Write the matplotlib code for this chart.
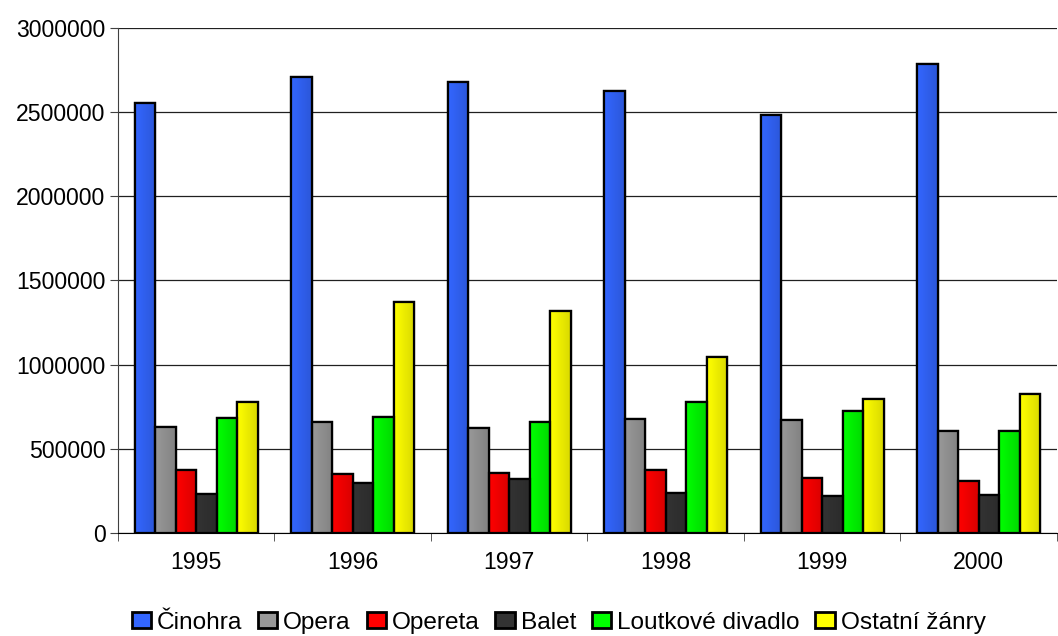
import matplotlib
matplotlib.use("Agg")
import matplotlib.pyplot as plt
import numpy as np
from matplotlib.colors import to_rgb, LinearSegmentedColormap

years = ["1995", "1996", "1997", "1998", "1999", "2000"]
series_names = ["Činohra", "Opera", "Opereta", "Balet", "Loutkové divadlo", "Ostatní žánry"]
cinohra = [2552000, 2711000, 2679000, 2627000, 2482000, 2789000]
opera = [632000, 657000, 624000, 675000, 669000, 608000]
opereta = [377000, 353000, 359000, 377000, 325000, 311000]
balet = [229000, 295000, 323000, 237000, 217000, 225000]
loutkove = [683000, 687000, 659000, 781000, 723000, 608000]
ostatni = [781000, 1373000, 1321000, 1048000, 797000, 823000]
colors = ["#3366FF", "#999999", "#FF0000", "#333333", "#00FF00", "#FFFF00"]

all_series = [cinohra, opera, opereta, balet, loutkove, ostatni]

plt.rcParams['font.family'] = ['Liberation Sans', 'DejaVu Sans']
fig = plt.figure(figsize=(10.58, 6.36), dpi=100)
ax = fig.add_axes([0.1115, 0.162, 0.8875, 0.794])

x = np.arange(len(years))
n = len(all_series)
bw = 0.131
grad = np.linspace(0, 1, 64).reshape(1, -1)
for i, (vals, name, col) in enumerate(zip(all_series, series_names, colors)):
    offs = (i - (n - 1) / 2) * bw
    bars = ax.bar(x + offs, vals, width=bw, color=col, edgecolor="black",
                  linewidth=1.6, label=name, zorder=3)
    c = np.array(to_rgb(col))
    cmap = LinearSegmentedColormap.from_list("g", [c, c * 0.85])
    for b in bars:
        im = ax.imshow(grad, cmap=cmap, aspect="auto", zorder=3.5,
                       extent=[b.get_x(), b.get_x() + b.get_width(), 0, b.get_height()])
        im.set_clip_path(b)
    ax.bar(x + offs, vals, width=bw, fill=False, edgecolor="black", linewidth=1.6, zorder=4)

ax.set_xlim(-0.5, len(years) - 0.5)
ax.set_ylim(0, 3000000)
ax.set_yticks(np.arange(0, 3000001, 500000))
ax.set_yticklabels([str(v) for v in range(0, 3000001, 500000)])
ax.set_xticks(x)
ax.set_xticklabels(years)
ax.set_xticks(np.arange(-0.5, len(years), 1.0), minor=True)
ax.tick_params(axis="x", which="major", length=0, labelsize=16.6, pad=13)
ax.tick_params(axis="x", which="minor", length=6, color="#404040")
ax.tick_params(axis="y", length=6, labelsize=16.6, color="#404040", pad=3)
ax.grid(axis="y", color="#202020", linewidth=0.9, zorder=0)
ax.set_axisbelow(True)
for s in ["top", "right"]:
    ax.spines[s].set_visible(False)
ax.spines["left"].set_color("#404040")
ax.spines["bottom"].set_color("black")
ax.set_aspect("auto")

handles, labels = ax.get_legend_handles_labels()
leg = fig.legend(handles, labels, loc="center", bbox_to_anchor=(0.528, 0.021), ncol=6,
                 frameon=False, fontsize=17.6, handlelength=0.78, handleheight=0.68,
                 handletextpad=0.25, columnspacing=0.65, borderaxespad=0.0, borderpad=0.0)
for p in leg.get_patches():
    p.set_linewidth(2.0)

fig.savefig("out.png", dpi=100)
